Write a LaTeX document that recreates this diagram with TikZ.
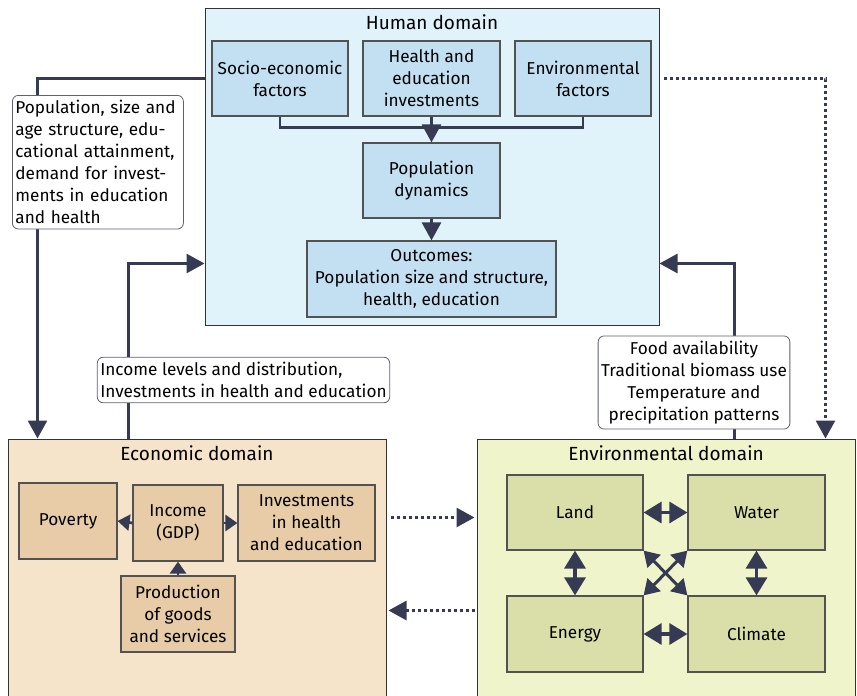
\documentclass[tikz,border=0pt]{standalone}
\usepackage{fontspec}
\setmainfont{Fira Sans}
\usetikzlibrary{arrows.meta,calc}
\definecolor{ink}{HTML}{363A52}
\definecolor{hbg}{HTML}{E0F2FA}
\definecolor{hsub}{HTML}{C3E0F3}
\definecolor{ebg}{HTML}{F6E4CA}
\definecolor{esub}{HTML}{E8CCA8}
\definecolor{vbg}{HTML}{EFF4CB}
\definecolor{vsub}{HTML}{DADFAA}
\definecolor{bord}{HTML}{333333}
\tikzset{
  dombox/.style={draw=bord,line width=1pt,inner sep=0pt},
  sub/.style={draw=bord!85,line width=1.2pt,align=center,inner sep=2pt,font=\fontsize{17.2}{22}\selectfont},
  lbl/.style={draw=ink!80,fill=white,rounded corners=6pt,line width=0.8pt,inner xsep=3pt,inner ysep=5pt,font=\fontsize{17.2}{22}\selectfont},
  ttl/.style={font=\fontsize{19}{22}\selectfont,inner sep=0pt},
  conn/.style={draw=ink,line width=2.8pt},
  arr/.style={conn,-{Triangle[length=18pt,width=19pt]}},
  dot/.style={conn,dash pattern=on 3pt off 3pt},
  smallarr/.style={conn,-{Triangle[length=12pt,width=16pt]}},
  dbl/.style={conn,line width=3.2pt,{Triangle[length=18pt,width=21pt]}-{Triangle[length=18pt,width=21pt]}},
  dbld/.style={conn,line width=3pt,{Triangle[length=15pt,width=18pt]}-{Triangle[length=15pt,width=18pt]}},
}
\begin{document}
\begin{tikzpicture}[x=1pt,y=-1pt]
\useasboundingbox (0,0) rectangle (857,696);
% domains
\node[dombox,fill=hbg,minimum width=454pt,minimum height=317pt] (human) at (432,166.5) {};
\node[ttl] at (432,22) {Human domain};
\node[dombox,fill=ebg,minimum width=378pt,minimum height=270pt] (econ) at (197,574) {};
\node[ttl] at (197,453) {Economic domain};
\node[dombox,fill=vbg,minimum width=378pt,minimum height=270pt] (env) at (666,574) {};
\node[ttl] at (666,453) {Environmental domain};
% human sub-boxes
\node[sub,fill=hsub,minimum width=136pt,minimum height=75pt] (se) at (280,78.5) {Socio-economic\\factors};
\node[sub,fill=hsub,minimum width=137pt,minimum height=75pt] (he) at (431.5,78.5) {Health and\\education\\investments};
\node[sub,fill=hsub,minimum width=136pt,minimum height=75pt] (ef) at (583,78.5) {Environmental\\factors};
\node[sub,fill=hsub,minimum width=137pt,minimum height=75pt] (pd) at (431.5,180.5) {Population\\dynamics};
\node[sub,fill=hsub,minimum width=249pt,minimum height=76pt] (out) at (431.5,279) {Outcomes:\\Population size and structure,\\health, education};
\draw[conn] (se.south) -- ++(0,11) -| (ef.south);
\draw[arr] (he.south) -- (pd.north);
\draw[arr] (pd.south) -- (out.north);
% economic sub-boxes
\node[sub,fill=esub,minimum width=98pt,minimum height=76pt] (pov) at (68,521) {Poverty};
\node[sub,fill=esub,minimum width=90pt,minimum height=76pt] (inc) at (178,523) {Income\\(GDP)};
\node[sub,fill=esub,minimum width=137pt,minimum height=76pt] (inv) at (306.5,523) {Investments\\in health\\and education};
\node[sub,fill=esub,minimum width=114pt,minimum height=76pt] (prod) at (178,614) {Production\\of goods\\and services};
\draw[smallarr] (inc.west) -- (pov.east);
\draw[smallarr] (inc.east) -- (inv.west);
\draw[smallarr] (prod.north) -- (inc.south);
% environmental sub-boxes
\node[sub,fill=vsub,minimum width=136pt,minimum height=75pt] (land) at (575,512.5) {Land};
\node[sub,fill=vsub,minimum width=137pt,minimum height=75pt] (water) at (756.5,512.5) {Water};
\node[sub,fill=vsub,minimum width=136pt,minimum height=76pt] (energy) at (575,634) {Energy};
\node[sub,fill=vsub,minimum width=137pt,minimum height=76pt] (climate) at (756.5,634) {Climate};
\draw[dbl] (land.east) -- (water.west);
\draw[dbl] (energy.east) -- (climate.west);
\draw[dbl] (land.south) -- (energy.north);
\draw[dbl] (water.south) -- (climate.north);
\draw[dbld] (land.south east) -- (climate.north west);
\draw[dbld] (water.south west) -- (energy.north east);
% inter-domain connectors
\draw[arr] (se -| human.west) -| ($(econ.north west)+(30,0)$);
\node[lbl,align=left,anchor=north west,text width=165pt] (l1) at (12,95) {Population, size and\\age structure, edu-\\cational attainment,\\demand for invest-\\ments in education\\and health};
\draw[dot,-{Triangle[length=18pt,width=19pt]}] ($(ef.east -| human.east)+(4,0)$) -| ($(env.north east)+(-30,0)$);
\draw[arr] ($(econ.north west)+(121,0)$) |- ($(human.south west)+(0,-62)$);
\node[lbl,align=left] (l2) at (243.5,380) {Income levels and distribution,\\Investments in health and education};
\draw[arr] ($(env.north west)+(258,0)$) |- ($(human.south east)+(0,-62)$);
\node[lbl,align=center] (l3) at (694,382.5) {Food availability\\Traditional biomass use\\Temperature and\\precipitation patterns};
\draw[dot,-{Triangle[length=18pt,width=19pt]}] ($(econ.north east)+(4,79)$) -- ($(env.north west)+(-2,79)$);
\draw[dot,-{Triangle[length=18pt,width=19pt]}] ($(env.north west)+(-2,172)$) -- ($(econ.north east)+(2,172)$);
\end{tikzpicture}
\end{document}
